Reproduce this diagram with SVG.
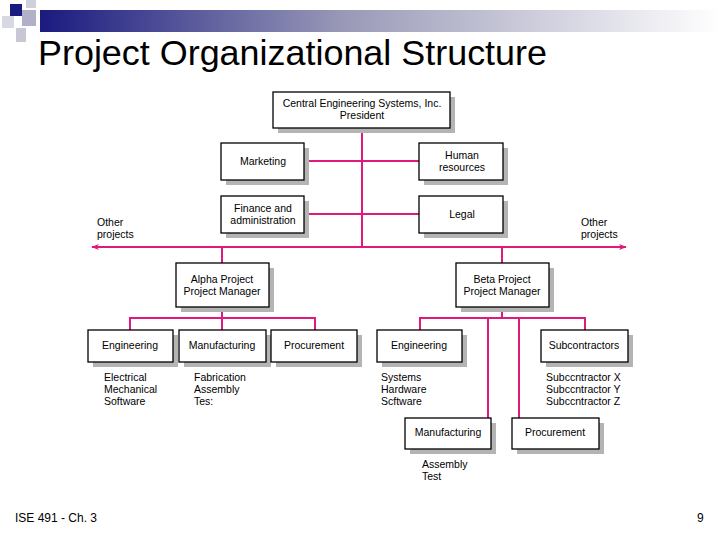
<svg xmlns="http://www.w3.org/2000/svg" width="720" height="540" viewBox="0 0 720 540">
<defs>
<linearGradient id="g" x1="0" x2="1" y1="0" y2="0"><stop offset="0" stop-color="#1a1a80"/><stop offset="0.45" stop-color="#9a9ab8"/><stop offset="1" stop-color="#ffffff"/></linearGradient>
<marker id="ar" viewBox="0 0 10 10" refX="9" refY="5" markerWidth="8" markerHeight="8" orient="auto-start-reverse" markerUnits="userSpaceOnUse"><path d="M0,1 L10,5 L0,9 L3,5 Z" fill="#e0197d"/></marker>
<style>
.b{fill:#fff;stroke:#000;stroke-width:1.3}
.s{fill:#b4b4b4}
.t{font-family:"Liberation Sans",Arial,sans-serif;font-size:10.5px;text-anchor:middle;fill:#000}
.l{font-family:"Liberation Sans",Arial,sans-serif;font-size:10.5px;fill:#000}
.c{stroke:#e0197d;stroke-width:2;fill:none}
</style>
</defs>
<rect x="40" y="10" width="680" height="22" fill="url(#g)"/>
<rect x="10" y="4" width="12" height="12" fill="#1a1a80"/>
<rect x="22" y="10" width="14" height="16" fill="#b0b0c8"/>
<rect x="2" y="16" width="12" height="12" fill="#d8d8e4"/>
<rect x="26" y="0" width="10" height="8" fill="#d0d0dc"/>
<rect x="16" y="28" width="10" height="14" fill="#c8c8d4"/>
<text x="38" y="65" font-family="Liberation Sans,Arial,sans-serif" font-size="35" textLength="509" lengthAdjust="spacingAndGlyphs">Project Organizational Structure</text>
<g id="connectors">
<path class="c" d="M362,128 V247 M304,161 H419 M304,214 H419"/>
<path class="c" d="M92,247 H626" marker-start="url(#ar)" marker-end="url(#ar)"/>
<path class="c" d="M222,247 V263 M502,247 V263"/>
<path class="c" d="M222,307 V318 M130,330 V318 H315 V330 M222,318 V330"/>
<path class="c" d="M502,307 V318 M420,330 V318 H585 V330 M488,318 V418 M519,318 V418"/>
</g>
<g id="president"><rect class="s" x="278" y="97" width="177" height="36"/><rect class="b" x="273" y="92" width="177" height="36"/><text class="t" x="362" y="107">Central Engineering Systems, Inc.</text><text class="t" x="362" y="119">President</text></g>
<g id="marketing"><rect class="s" x="226" y="148" width="83" height="37"/><rect class="b" x="221" y="143" width="83" height="37"/><text class="t" x="263" y="165">Marketing</text></g>
<g id="hr"><rect class="s" x="424" y="148" width="84" height="37"/><rect class="b" x="419" y="143" width="84" height="37"/><text class="t" x="462" y="159">Human</text><text class="t" x="462" y="171">resources</text></g>
<g id="finance"><rect class="s" x="226" y="201" width="83" height="37"/><rect class="b" x="221" y="196" width="83" height="37"/><text class="t" x="263" y="212">Finance and</text><text class="t" x="263" y="224">administration</text></g>
<g id="legal"><rect class="s" x="424" y="201" width="84" height="37"/><rect class="b" x="419" y="196" width="84" height="37"/><text class="t" x="462" y="218">Legal</text></g>
<text class="l" x="97" y="226">Other</text><text class="l" x="97" y="238">projects</text>
<text class="l" x="581" y="226">Other</text><text class="l" x="581" y="238">projects</text>
<g id="alpha"><rect class="s" x="181" y="268" width="93" height="44"/><rect class="b" x="176" y="263" width="93" height="44"/><text class="t" x="222" y="283">Alpha Project</text><text class="t" x="222" y="295">Project Manager</text></g>
<g id="beta"><rect class="s" x="461" y="268" width="93" height="44"/><rect class="b" x="456" y="263" width="93" height="44"/><text class="t" x="502" y="283">Beta Project</text><text class="t" x="502" y="295">Project Manager</text></g>
<g id="a-eng"><rect class="s" x="93" y="335" width="85" height="32"/><rect class="b" x="88" y="330" width="85" height="32"/><text class="t" x="130" y="349">Engineering</text></g>
<g id="a-man"><rect class="s" x="184" y="335" width="87" height="32"/><rect class="b" x="179" y="330" width="87" height="32"/><text class="t" x="222" y="349">Manufacturing</text></g>
<g id="a-pro"><rect class="s" x="276" y="335" width="86" height="32"/><rect class="b" x="271" y="330" width="86" height="32"/><text class="t" x="314" y="349">Procurement</text></g>
<g id="b-eng"><rect class="s" x="382" y="335" width="85" height="32"/><rect class="b" x="377" y="330" width="85" height="32"/><text class="t" x="419" y="349">Engineering</text></g>
<g id="b-sub"><rect class="s" x="546" y="335" width="87" height="32"/><rect class="b" x="541" y="330" width="87" height="32"/><text class="t" x="584" y="349">Subcontractors</text></g>
<g id="b-man"><rect class="s" x="410" y="423" width="86" height="31"/><rect class="b" x="405" y="418" width="86" height="31"/><text class="t" x="448" y="436">Manufacturing</text></g>
<g id="b-pro"><rect class="s" x="517" y="423" width="87" height="31"/><rect class="b" x="512" y="418" width="87" height="31"/><text class="t" x="555" y="436">Procurement</text></g>
<g class="l"><text x="104" y="381">Electrical</text><text x="104" y="393">Mechanical</text><text x="104" y="405">Software</text>
<text x="194" y="381">Fabrication</text><text x="194" y="393">Assembly</text><text x="194" y="405">Tes:</text>
<text x="381" y="381">Systems</text><text x="381" y="393">Hardware</text><text x="381" y="405">Scftware</text>
<text x="546" y="381">Subccntractor X</text><text x="546" y="393">Subccntractor Y</text><text x="546" y="405">Subccntractor Z</text>
<text x="422" y="468">Assembly</text><text x="422" y="480">Test</text></g>
<text x="15" y="522" font-family="Liberation Sans,Arial,sans-serif" font-size="12">ISE 491 - Ch. 3</text>
<text x="697" y="522" font-family="Liberation Sans,Arial,sans-serif" font-size="12">9</text>
</svg>
